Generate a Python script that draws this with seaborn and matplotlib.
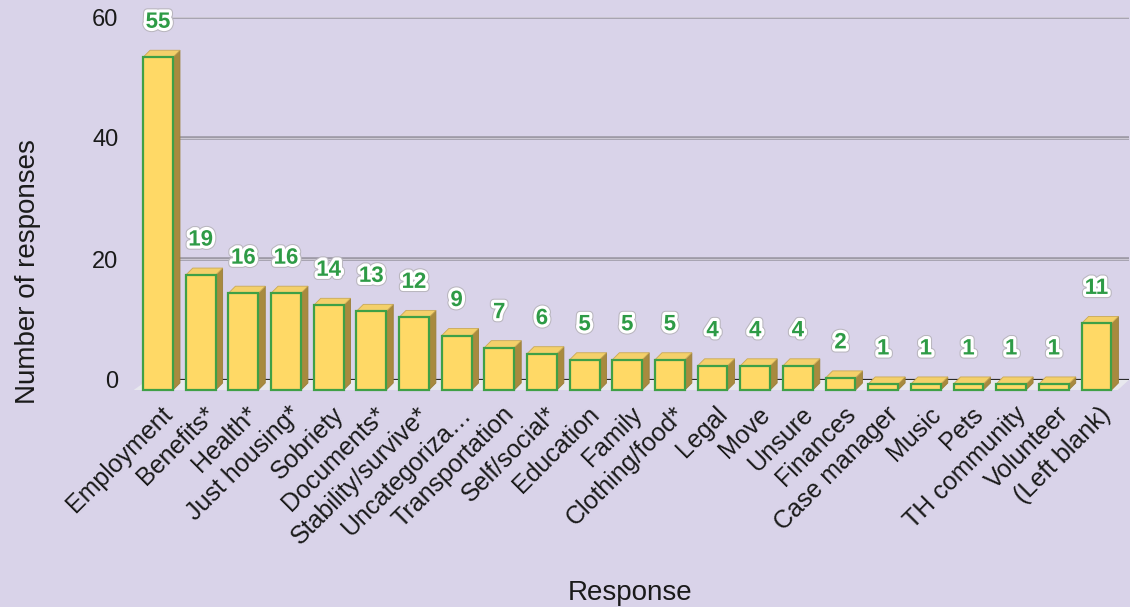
import matplotlib
matplotlib.use("Agg")
import matplotlib.pyplot as plt
import matplotlib.patheffects as pe
from matplotlib.patches import Polygon
from matplotlib.transforms import IdentityTransform, ScaledTranslation
import seaborn as sns

categories = [
    "Employment", "Benefits*", "Health*", "Just housing*", "Sobriety",
    "Documents*", "Stability/survive*", "Uncategoriza\u2026", "Transportation",
    "Self/social*", "Education", "Family", "Clothing/food*", "Legal", "Move",
    "Unsure", "Finances", "Case manager", "Music", "Pets", "TH community",
    "Volunteer", "(Left blank)",
]
responses = [55, 19, 16, 16, 14, 13, 12, 9, 7, 6, 5, 5, 5, 4, 4, 4, 2, 1, 1, 1, 1, 1, 11]
y_ticks = [0, 20, 40, 60]

BG = "#D9D3E9"
FRONT = "#FFD966"
EDGE = "#3FA046"
SIDE = "#A88A3E"
TOP = "#F4D06A"
LABEL = "#2E9B46"

sns.set_style("white")
plt.rcParams["font.family"] = ["Liberation Sans", "DejaVu Sans"]

DPI = 100
W_PX, H_PX = 1130, 607
fig = plt.figure(figsize=(W_PX / DPI, H_PX / DPI), dpi=DPI, facecolor=BG)
# axes cover the back wall of the 3-D scene
left, right, top, bottom = 147.7, 1128.8, 17, 380
ax = fig.add_axes([left / W_PX, (H_PX - bottom) / H_PX,
                   (right - left) / W_PX, (bottom - top) / H_PX])
ax.set_facecolor("none")

sns.barplot(x=categories, y=responses, color=FRONT, saturation=1,
            width=0.7, edgecolor=EDGE, linewidth=1.6, ax=ax, zorder=3)
bars = list(ax.patches)

ax.set_xlim(-0.5, len(categories) - 0.5)
ax.set_ylim(0, 60)
for s in ax.spines.values():
    s.set_visible(False)

# front plane sits below-left of the back wall
WALL_DX, WALL_DY = 11, 10
DEPTH = 7
shift = ScaledTranslation(-WALL_DX / DPI, -WALL_DY / DPI, fig.dpi_scale_trans)

# floor
(bx0, by), = ax.transAxes.transform([(0, 0)])
(bx1, _), = ax.transAxes.transform([(1, 0)])
floor = Polygon([(bx0 - WALL_DX - 3, by - WALL_DY), (bx1 - WALL_DX, by - WALL_DY),
                 (bx1, by), (bx0, by)], closed=True, transform=IdentityTransform(),
                facecolor="#E8E8EE", edgecolor="none", zorder=0.5)
ax.add_artist(floor)
floor.set_clip_on(False)

# gridlines on the back wall
for t in y_ticks[1:]:
    ax.axhline(t, color="#9C98A4", lw=2.6, zorder=1)
    ax.axhline(t, color="#CBC7D2", lw=0.8, zorder=1.1)
ax.axhline(0, color="#2A2A2A", lw=1.6, zorder=1)

for p, v in zip(bars, responses):
    x0, w, h = p.get_x(), p.get_width(), p.get_height()
    (X0, Y0), (X1, Y1) = ax.transData.transform([(x0, 0), (x0 + w, h)])
    X0 -= WALL_DX; X1 -= WALL_DX; Y0 -= WALL_DY; Y1 -= WALL_DY
    side = Polygon([(X1, Y0), (X1 + DEPTH, Y0 + DEPTH), (X1 + DEPTH, Y1 + DEPTH), (X1, Y1)],
                   closed=True, transform=IdentityTransform(), facecolor=SIDE,
                   edgecolor="#9A7E38", lw=0.6, zorder=2)
    topf = Polygon([(X0, Y1), (X1, Y1), (X1 + DEPTH, Y1 + DEPTH), (X0 + DEPTH, Y1 + DEPTH)],
                   closed=True, transform=IdentityTransform(), facecolor=TOP,
                   edgecolor="#C9A955", lw=0.6, zorder=2)
    for poly in (side, topf):
        ax.add_artist(poly)
        poly.set_clip_on(False)
    p.set_transform(ax.transData + shift)
    p.set_clip_on(False)
    p.set_zorder(3)
    ax.annotate(str(v), xy=(x0 + w / 2, v), xytext=(-WALL_DX, 25),
                textcoords="offset pixels", ha="center", va="center",
                fontsize=16, fontweight="bold", color=LABEL, zorder=5,
                annotation_clip=False,
                path_effects=[pe.Stroke(linewidth=6, foreground="#B9B6BE"),
                              pe.Stroke(linewidth=4.5, foreground="white"),
                              pe.Normal()])

ax.set_yticks(y_ticks)
ax.set_yticklabels([str(t) for t in y_ticks], fontsize=17, color="#1A1A1A")
ax.set_xticks(range(len(categories)))
ax.set_xticklabels(categories, rotation=45, ha="right", va="center",
                   rotation_mode="anchor", fontsize=18, color="#1A1A1A")
ax.tick_params(axis="y", length=0, pad=21)
ax.tick_params(axis="x", length=0, pad=22)

ax.set_xlabel("Response", fontsize=20, color="#1A1A1A")
ax.set_ylabel("Number of responses", fontsize=20, color="#1A1A1A")
ax.xaxis.set_label_coords((630 - left) / (right - left), (bottom - 580) / (bottom - top))
ax.yaxis.set_label_coords((41 - left) / (right - left), (bottom - 272) / (bottom - top))

fig.savefig("out.png", dpi=DPI, facecolor=BG)
